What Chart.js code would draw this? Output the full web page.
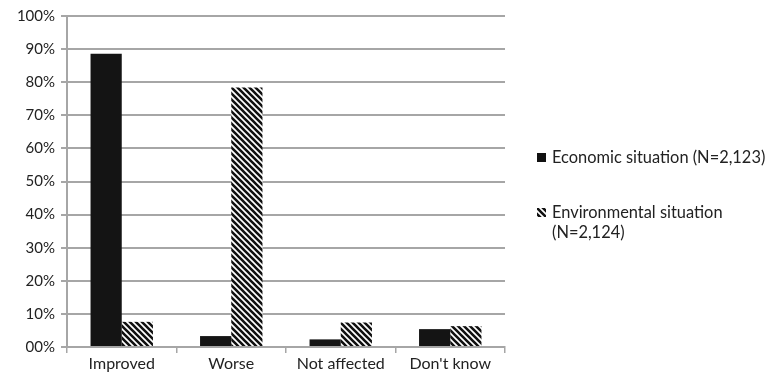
<!DOCTYPE html>
<html>
<head>
<meta charset="utf-8">
<script src="https://cdn.jsdelivr.net/npm/chart.js@4"></script>
<style>
  html, body { margin: 0; padding: 0; background: #fff; }
  #wrap { position: relative; width: 778px; height: 380px; }
  canvas { position: absolute; left: 0; top: 0; }
  .leg { position: absolute; font-family: Lato, "Open Sans", sans-serif; font-size: 16.4px; color: #222; line-height: 20px; white-space: nowrap; }
  .sw { position: absolute; width: 9px; height: 9px; }
</style>
</head>
<body>
<div id="wrap">
  <canvas id="c" width="778" height="380"></canvas>
  <div class="sw" style="left:537px; top:153px; background:#111;"></div>
  <div class="leg" id="l1" style="left:552px; top:147px;"></div>
  <div class="sw" id="sw2" style="left:537px; top:208px;"></div>
  <div class="leg" id="l2" style="left:552px; top:202px;"></div>
</div>
<script>
const categories = ["Improved", "Worse", "Not affected", "Don't know"];
const seriesNames = ["Economic situation (N=2,123)", "Environmental situation", "(N=2,124)"];
const economic = [88.6, 3.3, 2.3, 5.4];
const environmental = [7.6, 78.4, 7.4, 6.3];
const yTicks = [0, 10, 20, 30, 40, 50, 60, 70, 80, 90, 100];

document.getElementById('l1').textContent = seriesNames[0];
document.getElementById('l2').innerHTML = seriesNames[1] + '<br>' + seriesNames[2];

function makeHatch() {
  const p = document.createElement('canvas');
  p.width = 6; p.height = 6;
  const g = p.getContext('2d');
  g.fillStyle = '#fff'; g.fillRect(0, 0, 6, 6);
  g.strokeStyle = '#111'; g.lineWidth = 2.6;
  g.beginPath();
  g.moveTo(-6, 0); g.lineTo(6, 12);
  g.moveTo(-1, -1); g.lineTo(7, 7);
  g.moveTo(0, -6); g.lineTo(12, 6);
  g.stroke();
  return p;
}
const hatchCanvas = makeHatch();
const ctx = document.getElementById('c').getContext('2d');
const hatch = ctx.createPattern(hatchCanvas, 'repeat');
document.getElementById('sw2').style.background = 'url(' + hatchCanvas.toDataURL() + ')';

new Chart(ctx, {
  type: 'bar',
  data: {
    labels: categories,
    datasets: [
      { label: seriesNames[0], data: economic, backgroundColor: '#141414', borderWidth: 0 },
      { label: seriesNames[1] + ' ' + seriesNames[2], data: environmental, backgroundColor: hatch, borderWidth: 0 }
    ]
  },
  options: {
    responsive: false,
    animation: false,
    layout: { padding: { left: 0, right: 273, top: 16, bottom: 0 } },
    plugins: { legend: { display: false }, tooltip: { enabled: false } },
    datasets: { bar: { categoryPercentage: 0.57, barPercentage: 1.0 } },
    scales: {
      x: {
        grid: { display: true, drawOnChartArea: false, offset: true, color: '#a6a6a6', lineWidth: 1.5, tickLength: 6 },
        border: { color: '#a6a6a6', width: 2 },
        ticks: { color: '#222', font: { family: 'Lato, "Open Sans", sans-serif', size: 16 }, padding: 1 },
        afterFit: s => { s.height = 33; }
      },
      y: {
        min: 0, max: 100,
        afterBuildTicks: s => { s.ticks = yTicks.map(v => ({ value: v })); },
        grid: { color: '#a6a6a6', lineWidth: 2, tickLength: 6 },
        border: { color: '#a6a6a6', width: 2 },
        ticks: {
          color: '#222', font: { family: 'Lato, "Open Sans", sans-serif', size: 15 }, padding: 6,
          callback: v => (v === 0 ? '00' : v) + '%'
        },
        afterFit: s => { s.width = 67; }
      }
    }
  }
});
</script>
</body>
</html>
